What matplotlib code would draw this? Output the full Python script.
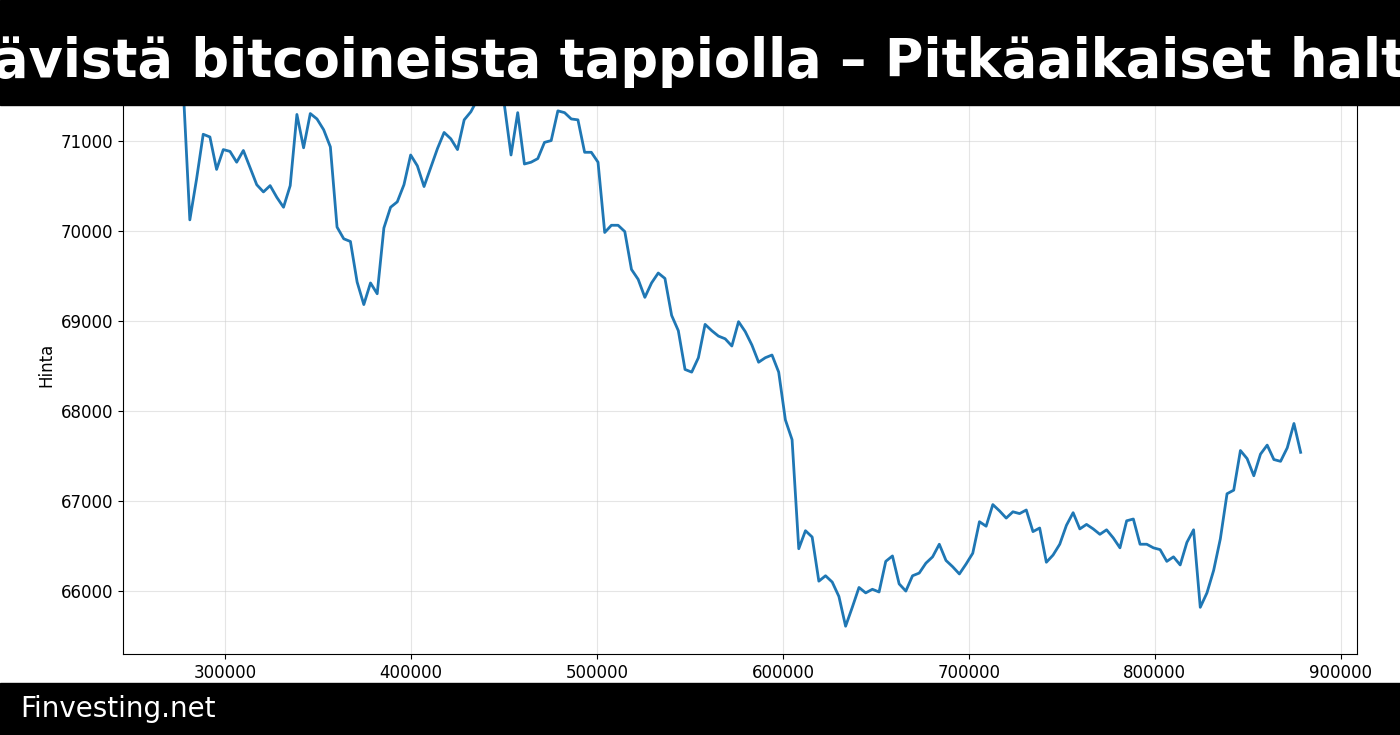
import numpy as np
import matplotlib
matplotlib.use("Agg")
import matplotlib.pyplot as plt
from matplotlib.patches import Rectangle

# ── Data ─────────────────────────────────────────────────────────────
prices = [
    71600, 70120, 70570, 71070, 71040, 70680, 70900, 70880, 70760, 70890,
    70700, 70510, 70430, 70500, 70370, 70260, 70500, 71290, 70920, 71300,
    71240, 71120, 70930, 70040, 69910, 69880, 69430, 69180, 69420, 69300,
    70030, 70260, 70320, 70510, 70840, 70720, 70490, 70700, 70910, 71090,
    71020, 70900, 71230, 71320, 71460, 71570, 71620, 71590, 71400, 70840,
    71310, 70740, 70760, 70800, 70980, 71000, 71330, 71310, 71240, 71230,
    70870, 70870, 70760, 69980, 70060, 70060, 69990, 69570, 69460, 69260,
    69420, 69530, 69470, 69060, 68890, 68460, 68430, 68590, 68960, 68890,
    68830, 68800, 68720, 68990, 68880, 68730, 68540, 68590, 68620, 68430,
    67900, 67680, 66470, 66670, 66600, 66110, 66170, 66100, 65940, 65610,
    65820, 66040, 65980, 66020, 65990, 66330, 66390, 66080, 66000, 66170,
    66200, 66310, 66380, 66520, 66340, 66270, 66190, 66300, 66420, 66770,
    66720, 66960, 66890, 66810, 66880, 66860, 66900, 66660, 66700, 66320,
    66400, 66520, 66730, 66870, 66690, 66740, 66690, 66630, 66680, 66590,
    66480, 66780, 66800, 66520, 66520, 66480, 66460, 66330, 66380, 66290,
    66540, 66680, 65820, 65980, 66230, 66580, 67080, 67120, 67560, 67470,
    67280, 67520, 67620, 67460, 67440, 67590, 67860, 67540,
]
x_first, x_last = 277400, 878500
xs = np.linspace(x_first, x_last, len(prices))

title = "ävistä bitcoineista tappiolla – Pitkäaikaiset haltijat"
footer = "Finvesting.net"

# ── Figure ───────────────────────────────────────────────────────────
fig = plt.figure(figsize=(14, 7.35), dpi=100)
ax = fig.add_axes([0.088, 0.110, 0.881, 0.787])

ax.plot(xs, prices, color="#1f77b4", linewidth=2)
ax.set_xlim(245160, 908600)
ax.set_ylim(65300, 71720)
ax.set_xticks([300000, 400000, 500000, 600000, 700000, 800000, 900000])
ax.set_yticks([66000, 67000, 68000, 69000, 70000, 71000])
ax.tick_params(labelsize=12)
ax.grid(True, color="#cccccc", alpha=0.5, linewidth=0.8)
ax.set_ylabel("Hinta", fontsize=12)

# banners
fig.patches.append(Rectangle((0, 1 - 105 / 735), 1, 105 / 735,
                             transform=fig.transFigure, color="black", zorder=5))
fig.patches.append(Rectangle((0, 0), 1, 52 / 735,
                             transform=fig.transFigure, color="black", zorder=5))
fig.text(-0.005, 1 - 62 / 735, title, ha="left", va="center", color="white",
         fontsize=38, fontweight="bold", zorder=6)
fig.text(20 / 1400, 26 / 735, footer, ha="left", va="center", color="white",
         fontsize=20, zorder=6)

fig.savefig("out.png", dpi=100)
